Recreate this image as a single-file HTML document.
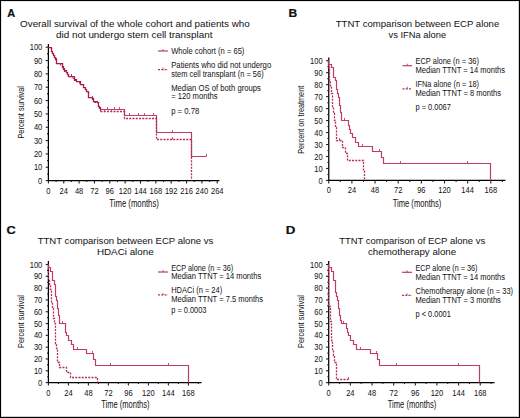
<!DOCTYPE html>
<html><head><meta charset="utf-8"><style>html,body{margin:0;padding:0;background:#fff;}svg{display:block;}text{font-family:"Liberation Sans",sans-serif;}</style></head><body>
<svg width="520" height="418" viewBox="0 0 520 418" font-family="Liberation Sans, sans-serif" fill="#111">
<rect x="0" y="0" width="520" height="418" fill="#fff"/>
<line x1="48.40" y1="44.00" x2="48.40" y2="181.10" stroke="#000" stroke-width="1.25"/>
<line x1="47.90" y1="180.60" x2="219.40" y2="180.60" stroke="#000" stroke-width="1.25"/>
<line x1="45.70" y1="180.60" x2="48.40" y2="180.60" stroke="#222" stroke-width="1.1"/>
<line x1="47.00" y1="173.93" x2="48.40" y2="173.93" stroke="#222" stroke-width="1.1"/>
<line x1="45.70" y1="167.26" x2="48.40" y2="167.26" stroke="#222" stroke-width="1.1"/>
<line x1="47.00" y1="160.59" x2="48.40" y2="160.59" stroke="#222" stroke-width="1.1"/>
<line x1="45.70" y1="153.92" x2="48.40" y2="153.92" stroke="#222" stroke-width="1.1"/>
<line x1="47.00" y1="147.25" x2="48.40" y2="147.25" stroke="#222" stroke-width="1.1"/>
<line x1="45.70" y1="140.58" x2="48.40" y2="140.58" stroke="#222" stroke-width="1.1"/>
<line x1="47.00" y1="133.91" x2="48.40" y2="133.91" stroke="#222" stroke-width="1.1"/>
<line x1="45.70" y1="127.24" x2="48.40" y2="127.24" stroke="#222" stroke-width="1.1"/>
<line x1="47.00" y1="120.57" x2="48.40" y2="120.57" stroke="#222" stroke-width="1.1"/>
<line x1="45.70" y1="113.90" x2="48.40" y2="113.90" stroke="#222" stroke-width="1.1"/>
<line x1="47.00" y1="107.23" x2="48.40" y2="107.23" stroke="#222" stroke-width="1.1"/>
<line x1="45.70" y1="100.56" x2="48.40" y2="100.56" stroke="#222" stroke-width="1.1"/>
<line x1="47.00" y1="93.89" x2="48.40" y2="93.89" stroke="#222" stroke-width="1.1"/>
<line x1="45.70" y1="87.22" x2="48.40" y2="87.22" stroke="#222" stroke-width="1.1"/>
<line x1="47.00" y1="80.55" x2="48.40" y2="80.55" stroke="#222" stroke-width="1.1"/>
<line x1="45.70" y1="73.88" x2="48.40" y2="73.88" stroke="#222" stroke-width="1.1"/>
<line x1="47.00" y1="67.21" x2="48.40" y2="67.21" stroke="#222" stroke-width="1.1"/>
<line x1="45.70" y1="60.54" x2="48.40" y2="60.54" stroke="#222" stroke-width="1.1"/>
<line x1="47.00" y1="53.87" x2="48.40" y2="53.87" stroke="#222" stroke-width="1.1"/>
<line x1="45.70" y1="47.20" x2="48.40" y2="47.20" stroke="#222" stroke-width="1.1"/>
<line x1="48.40" y1="180.60" x2="48.40" y2="183.60" stroke="#222" stroke-width="1.1"/>
<line x1="56.07" y1="180.60" x2="56.07" y2="182.10" stroke="#222" stroke-width="1.1"/>
<line x1="63.75" y1="180.60" x2="63.75" y2="183.60" stroke="#222" stroke-width="1.1"/>
<line x1="71.42" y1="180.60" x2="71.42" y2="182.10" stroke="#222" stroke-width="1.1"/>
<line x1="79.10" y1="180.60" x2="79.10" y2="183.60" stroke="#222" stroke-width="1.1"/>
<line x1="86.78" y1="180.60" x2="86.78" y2="182.10" stroke="#222" stroke-width="1.1"/>
<line x1="94.45" y1="180.60" x2="94.45" y2="183.60" stroke="#222" stroke-width="1.1"/>
<line x1="102.12" y1="180.60" x2="102.12" y2="182.10" stroke="#222" stroke-width="1.1"/>
<line x1="109.80" y1="180.60" x2="109.80" y2="183.60" stroke="#222" stroke-width="1.1"/>
<line x1="117.47" y1="180.60" x2="117.47" y2="182.10" stroke="#222" stroke-width="1.1"/>
<line x1="125.15" y1="180.60" x2="125.15" y2="183.60" stroke="#222" stroke-width="1.1"/>
<line x1="132.82" y1="180.60" x2="132.82" y2="182.10" stroke="#222" stroke-width="1.1"/>
<line x1="140.50" y1="180.60" x2="140.50" y2="183.60" stroke="#222" stroke-width="1.1"/>
<line x1="148.17" y1="180.60" x2="148.17" y2="182.10" stroke="#222" stroke-width="1.1"/>
<line x1="155.85" y1="180.60" x2="155.85" y2="183.60" stroke="#222" stroke-width="1.1"/>
<line x1="163.52" y1="180.60" x2="163.52" y2="182.10" stroke="#222" stroke-width="1.1"/>
<line x1="171.20" y1="180.60" x2="171.20" y2="183.60" stroke="#222" stroke-width="1.1"/>
<line x1="178.88" y1="180.60" x2="178.88" y2="182.10" stroke="#222" stroke-width="1.1"/>
<line x1="186.55" y1="180.60" x2="186.55" y2="183.60" stroke="#222" stroke-width="1.1"/>
<line x1="194.22" y1="180.60" x2="194.22" y2="182.10" stroke="#222" stroke-width="1.1"/>
<line x1="201.90" y1="180.60" x2="201.90" y2="183.60" stroke="#222" stroke-width="1.1"/>
<line x1="209.57" y1="180.60" x2="209.57" y2="182.10" stroke="#222" stroke-width="1.1"/>
<line x1="217.25" y1="180.60" x2="217.25" y2="183.60" stroke="#222" stroke-width="1.1"/>
<text x="42.30" y="183.65" font-size="9.0" text-anchor="end" textLength="4.20" lengthAdjust="spacingAndGlyphs">0</text>
<text x="42.30" y="170.31" font-size="9.0" text-anchor="end" textLength="8.40" lengthAdjust="spacingAndGlyphs">10</text>
<text x="42.30" y="156.97" font-size="9.0" text-anchor="end" textLength="8.40" lengthAdjust="spacingAndGlyphs">20</text>
<text x="42.30" y="143.63" font-size="9.0" text-anchor="end" textLength="8.40" lengthAdjust="spacingAndGlyphs">30</text>
<text x="42.30" y="130.29" font-size="9.0" text-anchor="end" textLength="8.40" lengthAdjust="spacingAndGlyphs">40</text>
<text x="42.30" y="116.95" font-size="9.0" text-anchor="end" textLength="8.40" lengthAdjust="spacingAndGlyphs">50</text>
<text x="42.30" y="103.61" font-size="9.0" text-anchor="end" textLength="8.40" lengthAdjust="spacingAndGlyphs">60</text>
<text x="42.30" y="90.27" font-size="9.0" text-anchor="end" textLength="8.40" lengthAdjust="spacingAndGlyphs">70</text>
<text x="42.30" y="76.93" font-size="9.0" text-anchor="end" textLength="8.40" lengthAdjust="spacingAndGlyphs">80</text>
<text x="42.30" y="63.59" font-size="9.0" text-anchor="end" textLength="8.40" lengthAdjust="spacingAndGlyphs">90</text>
<text x="42.30" y="50.25" font-size="9.0" text-anchor="end" textLength="12.60" lengthAdjust="spacingAndGlyphs">100</text>
<text x="48.40" y="193.60" font-size="9.0" text-anchor="middle" textLength="4.20" lengthAdjust="spacingAndGlyphs">0</text>
<text x="63.75" y="193.60" font-size="9.0" text-anchor="middle" textLength="8.40" lengthAdjust="spacingAndGlyphs">24</text>
<text x="79.10" y="193.60" font-size="9.0" text-anchor="middle" textLength="8.40" lengthAdjust="spacingAndGlyphs">48</text>
<text x="94.45" y="193.60" font-size="9.0" text-anchor="middle" textLength="8.40" lengthAdjust="spacingAndGlyphs">72</text>
<text x="109.80" y="193.60" font-size="9.0" text-anchor="middle" textLength="8.40" lengthAdjust="spacingAndGlyphs">96</text>
<text x="125.15" y="193.60" font-size="9.0" text-anchor="middle" textLength="12.60" lengthAdjust="spacingAndGlyphs">120</text>
<text x="140.50" y="193.60" font-size="9.0" text-anchor="middle" textLength="12.60" lengthAdjust="spacingAndGlyphs">144</text>
<text x="155.85" y="193.60" font-size="9.0" text-anchor="middle" textLength="12.60" lengthAdjust="spacingAndGlyphs">168</text>
<text x="171.20" y="193.60" font-size="9.0" text-anchor="middle" textLength="12.60" lengthAdjust="spacingAndGlyphs">192</text>
<text x="186.55" y="193.60" font-size="9.0" text-anchor="middle" textLength="12.60" lengthAdjust="spacingAndGlyphs">216</text>
<text x="201.90" y="193.60" font-size="9.0" text-anchor="middle" textLength="12.60" lengthAdjust="spacingAndGlyphs">240</text>
<text x="217.25" y="193.60" font-size="9.0" text-anchor="middle" textLength="12.60" lengthAdjust="spacingAndGlyphs">264</text>
<line x1="328.75" y1="57.60" x2="328.75" y2="180.95" stroke="#000" stroke-width="1.25"/>
<line x1="328.25" y1="180.45" x2="505.40" y2="180.45" stroke="#000" stroke-width="1.25"/>
<line x1="326.05" y1="180.45" x2="328.75" y2="180.45" stroke="#222" stroke-width="1.1"/>
<line x1="327.35" y1="174.46" x2="328.75" y2="174.46" stroke="#222" stroke-width="1.1"/>
<line x1="326.05" y1="168.47" x2="328.75" y2="168.47" stroke="#222" stroke-width="1.1"/>
<line x1="327.35" y1="162.49" x2="328.75" y2="162.49" stroke="#222" stroke-width="1.1"/>
<line x1="326.05" y1="156.50" x2="328.75" y2="156.50" stroke="#222" stroke-width="1.1"/>
<line x1="327.35" y1="150.51" x2="328.75" y2="150.51" stroke="#222" stroke-width="1.1"/>
<line x1="326.05" y1="144.52" x2="328.75" y2="144.52" stroke="#222" stroke-width="1.1"/>
<line x1="327.35" y1="138.54" x2="328.75" y2="138.54" stroke="#222" stroke-width="1.1"/>
<line x1="326.05" y1="132.55" x2="328.75" y2="132.55" stroke="#222" stroke-width="1.1"/>
<line x1="327.35" y1="126.56" x2="328.75" y2="126.56" stroke="#222" stroke-width="1.1"/>
<line x1="326.05" y1="120.57" x2="328.75" y2="120.57" stroke="#222" stroke-width="1.1"/>
<line x1="327.35" y1="114.59" x2="328.75" y2="114.59" stroke="#222" stroke-width="1.1"/>
<line x1="326.05" y1="108.60" x2="328.75" y2="108.60" stroke="#222" stroke-width="1.1"/>
<line x1="327.35" y1="102.61" x2="328.75" y2="102.61" stroke="#222" stroke-width="1.1"/>
<line x1="326.05" y1="96.62" x2="328.75" y2="96.62" stroke="#222" stroke-width="1.1"/>
<line x1="327.35" y1="90.64" x2="328.75" y2="90.64" stroke="#222" stroke-width="1.1"/>
<line x1="326.05" y1="84.65" x2="328.75" y2="84.65" stroke="#222" stroke-width="1.1"/>
<line x1="327.35" y1="78.66" x2="328.75" y2="78.66" stroke="#222" stroke-width="1.1"/>
<line x1="326.05" y1="72.68" x2="328.75" y2="72.68" stroke="#222" stroke-width="1.1"/>
<line x1="327.35" y1="66.69" x2="328.75" y2="66.69" stroke="#222" stroke-width="1.1"/>
<line x1="326.05" y1="60.70" x2="328.75" y2="60.70" stroke="#222" stroke-width="1.1"/>
<line x1="328.75" y1="180.45" x2="328.75" y2="183.45" stroke="#222" stroke-width="1.1"/>
<line x1="340.32" y1="180.45" x2="340.32" y2="181.95" stroke="#222" stroke-width="1.1"/>
<line x1="351.90" y1="180.45" x2="351.90" y2="183.45" stroke="#222" stroke-width="1.1"/>
<line x1="363.48" y1="180.45" x2="363.48" y2="181.95" stroke="#222" stroke-width="1.1"/>
<line x1="375.05" y1="180.45" x2="375.05" y2="183.45" stroke="#222" stroke-width="1.1"/>
<line x1="386.62" y1="180.45" x2="386.62" y2="181.95" stroke="#222" stroke-width="1.1"/>
<line x1="398.20" y1="180.45" x2="398.20" y2="183.45" stroke="#222" stroke-width="1.1"/>
<line x1="409.77" y1="180.45" x2="409.77" y2="181.95" stroke="#222" stroke-width="1.1"/>
<line x1="421.35" y1="180.45" x2="421.35" y2="183.45" stroke="#222" stroke-width="1.1"/>
<line x1="432.92" y1="180.45" x2="432.92" y2="181.95" stroke="#222" stroke-width="1.1"/>
<line x1="444.50" y1="180.45" x2="444.50" y2="183.45" stroke="#222" stroke-width="1.1"/>
<line x1="456.07" y1="180.45" x2="456.07" y2="181.95" stroke="#222" stroke-width="1.1"/>
<line x1="467.65" y1="180.45" x2="467.65" y2="183.45" stroke="#222" stroke-width="1.1"/>
<line x1="479.23" y1="180.45" x2="479.23" y2="181.95" stroke="#222" stroke-width="1.1"/>
<line x1="490.80" y1="180.45" x2="490.80" y2="183.45" stroke="#222" stroke-width="1.1"/>
<line x1="502.38" y1="180.45" x2="502.38" y2="181.95" stroke="#222" stroke-width="1.1"/>
<text x="322.65" y="183.50" font-size="9.0" text-anchor="end" textLength="4.20" lengthAdjust="spacingAndGlyphs">0</text>
<text x="322.65" y="171.53" font-size="9.0" text-anchor="end" textLength="8.40" lengthAdjust="spacingAndGlyphs">10</text>
<text x="322.65" y="159.55" font-size="9.0" text-anchor="end" textLength="8.40" lengthAdjust="spacingAndGlyphs">20</text>
<text x="322.65" y="147.57" font-size="9.0" text-anchor="end" textLength="8.40" lengthAdjust="spacingAndGlyphs">30</text>
<text x="322.65" y="135.60" font-size="9.0" text-anchor="end" textLength="8.40" lengthAdjust="spacingAndGlyphs">40</text>
<text x="322.65" y="123.62" font-size="9.0" text-anchor="end" textLength="8.40" lengthAdjust="spacingAndGlyphs">50</text>
<text x="322.65" y="111.65" font-size="9.0" text-anchor="end" textLength="8.40" lengthAdjust="spacingAndGlyphs">60</text>
<text x="322.65" y="99.67" font-size="9.0" text-anchor="end" textLength="8.40" lengthAdjust="spacingAndGlyphs">70</text>
<text x="322.65" y="87.70" font-size="9.0" text-anchor="end" textLength="8.40" lengthAdjust="spacingAndGlyphs">80</text>
<text x="322.65" y="75.73" font-size="9.0" text-anchor="end" textLength="8.40" lengthAdjust="spacingAndGlyphs">90</text>
<text x="322.65" y="63.75" font-size="9.0" text-anchor="end" textLength="12.60" lengthAdjust="spacingAndGlyphs">100</text>
<text x="328.75" y="193.45" font-size="9.0" text-anchor="middle" textLength="4.20" lengthAdjust="spacingAndGlyphs">0</text>
<text x="351.90" y="193.45" font-size="9.0" text-anchor="middle" textLength="8.40" lengthAdjust="spacingAndGlyphs">24</text>
<text x="375.05" y="193.45" font-size="9.0" text-anchor="middle" textLength="8.40" lengthAdjust="spacingAndGlyphs">48</text>
<text x="398.20" y="193.45" font-size="9.0" text-anchor="middle" textLength="8.40" lengthAdjust="spacingAndGlyphs">72</text>
<text x="421.35" y="193.45" font-size="9.0" text-anchor="middle" textLength="8.40" lengthAdjust="spacingAndGlyphs">96</text>
<text x="444.50" y="193.45" font-size="9.0" text-anchor="middle" textLength="12.60" lengthAdjust="spacingAndGlyphs">120</text>
<text x="467.65" y="193.45" font-size="9.0" text-anchor="middle" textLength="12.60" lengthAdjust="spacingAndGlyphs">144</text>
<text x="490.80" y="193.45" font-size="9.0" text-anchor="middle" textLength="12.60" lengthAdjust="spacingAndGlyphs">168</text>
<line x1="48.40" y1="261.00" x2="48.40" y2="383.10" stroke="#000" stroke-width="1.25"/>
<line x1="47.90" y1="382.60" x2="201.50" y2="382.60" stroke="#000" stroke-width="1.25"/>
<line x1="45.70" y1="382.60" x2="48.40" y2="382.60" stroke="#222" stroke-width="1.1"/>
<line x1="47.00" y1="376.70" x2="48.40" y2="376.70" stroke="#222" stroke-width="1.1"/>
<line x1="45.70" y1="370.79" x2="48.40" y2="370.79" stroke="#222" stroke-width="1.1"/>
<line x1="47.00" y1="364.88" x2="48.40" y2="364.88" stroke="#222" stroke-width="1.1"/>
<line x1="45.70" y1="358.98" x2="48.40" y2="358.98" stroke="#222" stroke-width="1.1"/>
<line x1="47.00" y1="353.08" x2="48.40" y2="353.08" stroke="#222" stroke-width="1.1"/>
<line x1="45.70" y1="347.17" x2="48.40" y2="347.17" stroke="#222" stroke-width="1.1"/>
<line x1="47.00" y1="341.26" x2="48.40" y2="341.26" stroke="#222" stroke-width="1.1"/>
<line x1="45.70" y1="335.36" x2="48.40" y2="335.36" stroke="#222" stroke-width="1.1"/>
<line x1="47.00" y1="329.46" x2="48.40" y2="329.46" stroke="#222" stroke-width="1.1"/>
<line x1="45.70" y1="323.55" x2="48.40" y2="323.55" stroke="#222" stroke-width="1.1"/>
<line x1="47.00" y1="317.64" x2="48.40" y2="317.64" stroke="#222" stroke-width="1.1"/>
<line x1="45.70" y1="311.74" x2="48.40" y2="311.74" stroke="#222" stroke-width="1.1"/>
<line x1="47.00" y1="305.84" x2="48.40" y2="305.84" stroke="#222" stroke-width="1.1"/>
<line x1="45.70" y1="299.93" x2="48.40" y2="299.93" stroke="#222" stroke-width="1.1"/>
<line x1="47.00" y1="294.02" x2="48.40" y2="294.02" stroke="#222" stroke-width="1.1"/>
<line x1="45.70" y1="288.12" x2="48.40" y2="288.12" stroke="#222" stroke-width="1.1"/>
<line x1="47.00" y1="282.22" x2="48.40" y2="282.22" stroke="#222" stroke-width="1.1"/>
<line x1="45.70" y1="276.31" x2="48.40" y2="276.31" stroke="#222" stroke-width="1.1"/>
<line x1="47.00" y1="270.40" x2="48.40" y2="270.40" stroke="#222" stroke-width="1.1"/>
<line x1="45.70" y1="264.50" x2="48.40" y2="264.50" stroke="#222" stroke-width="1.1"/>
<line x1="48.40" y1="382.60" x2="48.40" y2="385.60" stroke="#222" stroke-width="1.1"/>
<line x1="58.40" y1="382.60" x2="58.40" y2="384.10" stroke="#222" stroke-width="1.1"/>
<line x1="68.40" y1="382.60" x2="68.40" y2="385.60" stroke="#222" stroke-width="1.1"/>
<line x1="78.40" y1="382.60" x2="78.40" y2="384.10" stroke="#222" stroke-width="1.1"/>
<line x1="88.40" y1="382.60" x2="88.40" y2="385.60" stroke="#222" stroke-width="1.1"/>
<line x1="98.40" y1="382.60" x2="98.40" y2="384.10" stroke="#222" stroke-width="1.1"/>
<line x1="108.40" y1="382.60" x2="108.40" y2="385.60" stroke="#222" stroke-width="1.1"/>
<line x1="118.40" y1="382.60" x2="118.40" y2="384.10" stroke="#222" stroke-width="1.1"/>
<line x1="128.40" y1="382.60" x2="128.40" y2="385.60" stroke="#222" stroke-width="1.1"/>
<line x1="138.40" y1="382.60" x2="138.40" y2="384.10" stroke="#222" stroke-width="1.1"/>
<line x1="148.40" y1="382.60" x2="148.40" y2="385.60" stroke="#222" stroke-width="1.1"/>
<line x1="158.40" y1="382.60" x2="158.40" y2="384.10" stroke="#222" stroke-width="1.1"/>
<line x1="168.40" y1="382.60" x2="168.40" y2="385.60" stroke="#222" stroke-width="1.1"/>
<line x1="178.40" y1="382.60" x2="178.40" y2="384.10" stroke="#222" stroke-width="1.1"/>
<line x1="188.40" y1="382.60" x2="188.40" y2="385.60" stroke="#222" stroke-width="1.1"/>
<line x1="198.40" y1="382.60" x2="198.40" y2="384.10" stroke="#222" stroke-width="1.1"/>
<text x="42.30" y="385.65" font-size="9.0" text-anchor="end" textLength="4.20" lengthAdjust="spacingAndGlyphs">0</text>
<text x="42.30" y="373.84" font-size="9.0" text-anchor="end" textLength="8.40" lengthAdjust="spacingAndGlyphs">10</text>
<text x="42.30" y="362.03" font-size="9.0" text-anchor="end" textLength="8.40" lengthAdjust="spacingAndGlyphs">20</text>
<text x="42.30" y="350.22" font-size="9.0" text-anchor="end" textLength="8.40" lengthAdjust="spacingAndGlyphs">30</text>
<text x="42.30" y="338.41" font-size="9.0" text-anchor="end" textLength="8.40" lengthAdjust="spacingAndGlyphs">40</text>
<text x="42.30" y="326.60" font-size="9.0" text-anchor="end" textLength="8.40" lengthAdjust="spacingAndGlyphs">50</text>
<text x="42.30" y="314.79" font-size="9.0" text-anchor="end" textLength="8.40" lengthAdjust="spacingAndGlyphs">60</text>
<text x="42.30" y="302.98" font-size="9.0" text-anchor="end" textLength="8.40" lengthAdjust="spacingAndGlyphs">70</text>
<text x="42.30" y="291.17" font-size="9.0" text-anchor="end" textLength="8.40" lengthAdjust="spacingAndGlyphs">80</text>
<text x="42.30" y="279.36" font-size="9.0" text-anchor="end" textLength="8.40" lengthAdjust="spacingAndGlyphs">90</text>
<text x="42.30" y="267.55" font-size="9.0" text-anchor="end" textLength="12.60" lengthAdjust="spacingAndGlyphs">100</text>
<text x="48.40" y="395.60" font-size="9.0" text-anchor="middle" textLength="4.20" lengthAdjust="spacingAndGlyphs">0</text>
<text x="68.40" y="395.60" font-size="9.0" text-anchor="middle" textLength="8.40" lengthAdjust="spacingAndGlyphs">24</text>
<text x="88.40" y="395.60" font-size="9.0" text-anchor="middle" textLength="8.40" lengthAdjust="spacingAndGlyphs">48</text>
<text x="108.40" y="395.60" font-size="9.0" text-anchor="middle" textLength="8.40" lengthAdjust="spacingAndGlyphs">72</text>
<text x="128.40" y="395.60" font-size="9.0" text-anchor="middle" textLength="8.40" lengthAdjust="spacingAndGlyphs">96</text>
<text x="148.40" y="395.60" font-size="9.0" text-anchor="middle" textLength="12.60" lengthAdjust="spacingAndGlyphs">120</text>
<text x="168.40" y="395.60" font-size="9.0" text-anchor="middle" textLength="12.60" lengthAdjust="spacingAndGlyphs">144</text>
<text x="188.40" y="395.60" font-size="9.0" text-anchor="middle" textLength="12.60" lengthAdjust="spacingAndGlyphs">168</text>
<line x1="328.70" y1="261.00" x2="328.70" y2="383.10" stroke="#000" stroke-width="1.25"/>
<line x1="328.20" y1="382.60" x2="494.50" y2="382.60" stroke="#000" stroke-width="1.25"/>
<line x1="326.00" y1="382.60" x2="328.70" y2="382.60" stroke="#222" stroke-width="1.1"/>
<line x1="327.30" y1="376.70" x2="328.70" y2="376.70" stroke="#222" stroke-width="1.1"/>
<line x1="326.00" y1="370.79" x2="328.70" y2="370.79" stroke="#222" stroke-width="1.1"/>
<line x1="327.30" y1="364.88" x2="328.70" y2="364.88" stroke="#222" stroke-width="1.1"/>
<line x1="326.00" y1="358.98" x2="328.70" y2="358.98" stroke="#222" stroke-width="1.1"/>
<line x1="327.30" y1="353.08" x2="328.70" y2="353.08" stroke="#222" stroke-width="1.1"/>
<line x1="326.00" y1="347.17" x2="328.70" y2="347.17" stroke="#222" stroke-width="1.1"/>
<line x1="327.30" y1="341.26" x2="328.70" y2="341.26" stroke="#222" stroke-width="1.1"/>
<line x1="326.00" y1="335.36" x2="328.70" y2="335.36" stroke="#222" stroke-width="1.1"/>
<line x1="327.30" y1="329.46" x2="328.70" y2="329.46" stroke="#222" stroke-width="1.1"/>
<line x1="326.00" y1="323.55" x2="328.70" y2="323.55" stroke="#222" stroke-width="1.1"/>
<line x1="327.30" y1="317.64" x2="328.70" y2="317.64" stroke="#222" stroke-width="1.1"/>
<line x1="326.00" y1="311.74" x2="328.70" y2="311.74" stroke="#222" stroke-width="1.1"/>
<line x1="327.30" y1="305.84" x2="328.70" y2="305.84" stroke="#222" stroke-width="1.1"/>
<line x1="326.00" y1="299.93" x2="328.70" y2="299.93" stroke="#222" stroke-width="1.1"/>
<line x1="327.30" y1="294.02" x2="328.70" y2="294.02" stroke="#222" stroke-width="1.1"/>
<line x1="326.00" y1="288.12" x2="328.70" y2="288.12" stroke="#222" stroke-width="1.1"/>
<line x1="327.30" y1="282.22" x2="328.70" y2="282.22" stroke="#222" stroke-width="1.1"/>
<line x1="326.00" y1="276.31" x2="328.70" y2="276.31" stroke="#222" stroke-width="1.1"/>
<line x1="327.30" y1="270.40" x2="328.70" y2="270.40" stroke="#222" stroke-width="1.1"/>
<line x1="326.00" y1="264.50" x2="328.70" y2="264.50" stroke="#222" stroke-width="1.1"/>
<line x1="328.70" y1="382.60" x2="328.70" y2="385.60" stroke="#222" stroke-width="1.1"/>
<line x1="339.52" y1="382.60" x2="339.52" y2="384.10" stroke="#222" stroke-width="1.1"/>
<line x1="350.35" y1="382.60" x2="350.35" y2="385.60" stroke="#222" stroke-width="1.1"/>
<line x1="361.17" y1="382.60" x2="361.17" y2="384.10" stroke="#222" stroke-width="1.1"/>
<line x1="372.00" y1="382.60" x2="372.00" y2="385.60" stroke="#222" stroke-width="1.1"/>
<line x1="382.82" y1="382.60" x2="382.82" y2="384.10" stroke="#222" stroke-width="1.1"/>
<line x1="393.65" y1="382.60" x2="393.65" y2="385.60" stroke="#222" stroke-width="1.1"/>
<line x1="404.47" y1="382.60" x2="404.47" y2="384.10" stroke="#222" stroke-width="1.1"/>
<line x1="415.30" y1="382.60" x2="415.30" y2="385.60" stroke="#222" stroke-width="1.1"/>
<line x1="426.12" y1="382.60" x2="426.12" y2="384.10" stroke="#222" stroke-width="1.1"/>
<line x1="436.95" y1="382.60" x2="436.95" y2="385.60" stroke="#222" stroke-width="1.1"/>
<line x1="447.77" y1="382.60" x2="447.77" y2="384.10" stroke="#222" stroke-width="1.1"/>
<line x1="458.60" y1="382.60" x2="458.60" y2="385.60" stroke="#222" stroke-width="1.1"/>
<line x1="469.42" y1="382.60" x2="469.42" y2="384.10" stroke="#222" stroke-width="1.1"/>
<line x1="480.25" y1="382.60" x2="480.25" y2="385.60" stroke="#222" stroke-width="1.1"/>
<line x1="491.07" y1="382.60" x2="491.07" y2="384.10" stroke="#222" stroke-width="1.1"/>
<text x="322.60" y="385.65" font-size="9.0" text-anchor="end" textLength="4.20" lengthAdjust="spacingAndGlyphs">0</text>
<text x="322.60" y="373.84" font-size="9.0" text-anchor="end" textLength="8.40" lengthAdjust="spacingAndGlyphs">10</text>
<text x="322.60" y="362.03" font-size="9.0" text-anchor="end" textLength="8.40" lengthAdjust="spacingAndGlyphs">20</text>
<text x="322.60" y="350.22" font-size="9.0" text-anchor="end" textLength="8.40" lengthAdjust="spacingAndGlyphs">30</text>
<text x="322.60" y="338.41" font-size="9.0" text-anchor="end" textLength="8.40" lengthAdjust="spacingAndGlyphs">40</text>
<text x="322.60" y="326.60" font-size="9.0" text-anchor="end" textLength="8.40" lengthAdjust="spacingAndGlyphs">50</text>
<text x="322.60" y="314.79" font-size="9.0" text-anchor="end" textLength="8.40" lengthAdjust="spacingAndGlyphs">60</text>
<text x="322.60" y="302.98" font-size="9.0" text-anchor="end" textLength="8.40" lengthAdjust="spacingAndGlyphs">70</text>
<text x="322.60" y="291.17" font-size="9.0" text-anchor="end" textLength="8.40" lengthAdjust="spacingAndGlyphs">80</text>
<text x="322.60" y="279.36" font-size="9.0" text-anchor="end" textLength="8.40" lengthAdjust="spacingAndGlyphs">90</text>
<text x="322.60" y="267.55" font-size="9.0" text-anchor="end" textLength="12.60" lengthAdjust="spacingAndGlyphs">100</text>
<text x="328.70" y="395.60" font-size="9.0" text-anchor="middle" textLength="4.20" lengthAdjust="spacingAndGlyphs">0</text>
<text x="350.35" y="395.60" font-size="9.0" text-anchor="middle" textLength="8.40" lengthAdjust="spacingAndGlyphs">24</text>
<text x="372.00" y="395.60" font-size="9.0" text-anchor="middle" textLength="8.40" lengthAdjust="spacingAndGlyphs">48</text>
<text x="393.65" y="395.60" font-size="9.0" text-anchor="middle" textLength="8.40" lengthAdjust="spacingAndGlyphs">72</text>
<text x="415.30" y="395.60" font-size="9.0" text-anchor="middle" textLength="8.40" lengthAdjust="spacingAndGlyphs">96</text>
<text x="436.95" y="395.60" font-size="9.0" text-anchor="middle" textLength="12.60" lengthAdjust="spacingAndGlyphs">120</text>
<text x="458.60" y="395.60" font-size="9.0" text-anchor="middle" textLength="12.60" lengthAdjust="spacingAndGlyphs">144</text>
<text x="480.25" y="395.60" font-size="9.0" text-anchor="middle" textLength="12.60" lengthAdjust="spacingAndGlyphs">168</text>
<text x="7.30" y="16.60" font-size="11.4" text-anchor="start" font-weight="bold" textLength="7.90" lengthAdjust="spacingAndGlyphs" stroke="#000" stroke-width="0.2">A</text>
<text x="288.60" y="16.60" font-size="11.4" text-anchor="start" font-weight="bold" textLength="8.70" lengthAdjust="spacingAndGlyphs" stroke="#000" stroke-width="0.2">B</text>
<text x="6.40" y="233.70" font-size="11.4" text-anchor="start" font-weight="bold" textLength="9.20" lengthAdjust="spacingAndGlyphs" stroke="#000" stroke-width="0.2">C</text>
<text x="285.80" y="233.70" font-size="11.4" text-anchor="start" font-weight="bold" textLength="9.60" lengthAdjust="spacingAndGlyphs" stroke="#000" stroke-width="0.2">D</text>
<text x="20.10" y="26.80" font-size="9.3" text-anchor="start" textLength="229.60" lengthAdjust="spacingAndGlyphs">Overall survival of the whole cohort and patients who</text>
<text x="56.00" y="38.40" font-size="9.3" text-anchor="start" textLength="156.40" lengthAdjust="spacingAndGlyphs">did not undergo stem cell transplant</text>
<text x="335.70" y="26.80" font-size="9.3" text-anchor="start" textLength="163.60" lengthAdjust="spacingAndGlyphs">TTNT comparison between ECP alone</text>
<text x="388.50" y="38.40" font-size="9.3" text-anchor="start" textLength="57.60" lengthAdjust="spacingAndGlyphs">vs IFNa alone</text>
<text x="37.70" y="244.40" font-size="9.3" text-anchor="start" textLength="175.60" lengthAdjust="spacingAndGlyphs">TTNT comparison between ECP alone vs</text>
<text x="96.90" y="255.00" font-size="9.3" text-anchor="start" textLength="56.80" lengthAdjust="spacingAndGlyphs">HDACi alone</text>
<text x="339.20" y="244.40" font-size="9.3" text-anchor="start" textLength="146.00" lengthAdjust="spacingAndGlyphs">TTNT comparison of ECP alone vs</text>
<text x="368.00" y="255.00" font-size="9.3" text-anchor="start" textLength="88.20" lengthAdjust="spacingAndGlyphs">chemotherapy alone</text>
<text x="134.10" y="206.60" font-size="10.2" text-anchor="middle" textLength="49.50" lengthAdjust="spacingAndGlyphs">Time (months)</text>
<text x="417.00" y="206.60" font-size="10.2" text-anchor="middle" textLength="48.70" lengthAdjust="spacingAndGlyphs">Time (months)</text>
<text x="125.40" y="408.40" font-size="10.2" text-anchor="middle" textLength="48.40" lengthAdjust="spacingAndGlyphs">Time (months)</text>
<text x="412.00" y="408.40" font-size="10.2" text-anchor="middle" textLength="48.50" lengthAdjust="spacingAndGlyphs">Time (months)</text>
<text transform="translate(24.00,112.30) rotate(-90)" x="0" y="0" font-size="9.9" text-anchor="middle" textLength="52.60" lengthAdjust="spacingAndGlyphs">Percent survival</text>
<text transform="translate(304.30,119.80) rotate(-90)" x="0" y="0" font-size="9.9" text-anchor="middle" textLength="68.00" lengthAdjust="spacingAndGlyphs">Percent on treatment</text>
<text transform="translate(24.10,321.50) rotate(-90)" x="0" y="0" font-size="9.9" text-anchor="middle" textLength="53.00" lengthAdjust="spacingAndGlyphs">Percent survival</text>
<text transform="translate(304.20,321.50) rotate(-90)" x="0" y="0" font-size="9.9" text-anchor="middle" textLength="53.00" lengthAdjust="spacingAndGlyphs">Percent survival</text>
<line x1="158" y1="51" x2="168" y2="51" stroke="#bd3d66" stroke-width="1.2"/>
<line x1="163.0" y1="49" x2="163.0" y2="51" stroke="#bd3d66" stroke-width="0.9"/>
<text x="171.20" y="53.90" font-size="8.4" text-anchor="start" textLength="73.20" lengthAdjust="spacingAndGlyphs">Whole cohort (n = 65)</text>
<line x1="158" y1="69.6" x2="168" y2="69.6" stroke="#b32e5a" stroke-width="1.3" stroke-dasharray="2,1.25"/>
<line x1="163.0" y1="67.6" x2="163.0" y2="69.6" stroke="#bd3d66" stroke-width="0.9"/>
<text x="171.20" y="67.80" font-size="8.4" text-anchor="start" textLength="100.00" lengthAdjust="spacingAndGlyphs">Patients who did not undergo</text>
<text x="171.20" y="77.40" font-size="8.4" text-anchor="start" textLength="92.50" lengthAdjust="spacingAndGlyphs">stem cell transplant (n = 56)</text>
<text x="171.20" y="90.80" font-size="8.4" text-anchor="start" textLength="89.70" lengthAdjust="spacingAndGlyphs">Median OS of both groups</text>
<text x="171.20" y="99.30" font-size="8.4" text-anchor="start" textLength="46.40" lengthAdjust="spacingAndGlyphs">= 120 months</text>
<text x="171.20" y="113.60" font-size="8.4" text-anchor="start" textLength="28.00" lengthAdjust="spacingAndGlyphs">p = 0.78</text>
<line x1="402.5" y1="65.7" x2="412" y2="65.7" stroke="#bd3d66" stroke-width="1.2"/>
<line x1="407.25" y1="63.7" x2="407.25" y2="65.7" stroke="#bd3d66" stroke-width="0.9"/>
<text x="415.50" y="63.90" font-size="8.4" text-anchor="start" textLength="63.50" lengthAdjust="spacingAndGlyphs">ECP alone (n = 36)</text>
<text x="415.50" y="73.00" font-size="8.4" text-anchor="start" textLength="89.50" lengthAdjust="spacingAndGlyphs">Median TTNT = 14 months</text>
<line x1="402.5" y1="88.8" x2="412" y2="88.8" stroke="#b32e5a" stroke-width="1.3" stroke-dasharray="2,1.25"/>
<line x1="407.25" y1="86.8" x2="407.25" y2="88.8" stroke="#bd3d66" stroke-width="0.9"/>
<text x="415.50" y="87.00" font-size="8.4" text-anchor="start" textLength="63.50" lengthAdjust="spacingAndGlyphs">IFNa alone (n = 18)</text>
<text x="415.50" y="95.80" font-size="8.4" text-anchor="start" textLength="85.50" lengthAdjust="spacingAndGlyphs">Median TTNT = 8 months</text>
<text x="415.50" y="109.60" font-size="8.4" text-anchor="start" textLength="35.30" lengthAdjust="spacingAndGlyphs">p = 0.0067</text>
<line x1="158" y1="272" x2="168" y2="272" stroke="#bd3d66" stroke-width="1.2"/>
<line x1="163.0" y1="270" x2="163.0" y2="272" stroke="#bd3d66" stroke-width="0.9"/>
<text x="171.20" y="270.70" font-size="8.4" text-anchor="start" textLength="62.00" lengthAdjust="spacingAndGlyphs">ECP alone (n = 36)</text>
<text x="171.20" y="279.20" font-size="8.4" text-anchor="start" textLength="90.00" lengthAdjust="spacingAndGlyphs">Median TTNT = 14 months</text>
<line x1="158" y1="294.9" x2="168" y2="294.9" stroke="#b32e5a" stroke-width="1.3" stroke-dasharray="2,1.25"/>
<line x1="163.0" y1="292.9" x2="163.0" y2="294.9" stroke="#bd3d66" stroke-width="0.9"/>
<text x="171.20" y="293.20" font-size="8.4" text-anchor="start" textLength="51.00" lengthAdjust="spacingAndGlyphs">HDACi (n = 24)</text>
<text x="171.20" y="302.00" font-size="8.4" text-anchor="start" textLength="91.90" lengthAdjust="spacingAndGlyphs">Median TTNT = 7.5 months</text>
<text x="171.20" y="313.00" font-size="8.4" text-anchor="start" textLength="35.30" lengthAdjust="spacingAndGlyphs">p = 0.0003</text>
<line x1="402.0" y1="272.3" x2="412" y2="272.3" stroke="#bd3d66" stroke-width="1.2"/>
<line x1="407.0" y1="270.3" x2="407.0" y2="272.3" stroke="#bd3d66" stroke-width="0.9"/>
<text x="415.50" y="270.80" font-size="8.4" text-anchor="start" textLength="62.00" lengthAdjust="spacingAndGlyphs">ECP alone (n = 36)</text>
<text x="415.50" y="279.60" font-size="8.4" text-anchor="start" textLength="89.50" lengthAdjust="spacingAndGlyphs">Median TTNT = 14 months</text>
<line x1="402.0" y1="295.4" x2="412" y2="295.4" stroke="#b32e5a" stroke-width="1.3" stroke-dasharray="2,1.25"/>
<line x1="407.0" y1="293.4" x2="407.0" y2="295.4" stroke="#bd3d66" stroke-width="0.9"/>
<text x="415.50" y="293.90" font-size="8.4" text-anchor="start" textLength="97.60" lengthAdjust="spacingAndGlyphs">Chemotherapy alone (n = 33)</text>
<text x="415.50" y="302.60" font-size="8.4" text-anchor="start" textLength="85.40" lengthAdjust="spacingAndGlyphs">Median TTNT = 3 months</text>
<text x="415.50" y="317.20" font-size="8.4" text-anchor="start" textLength="35.30" lengthAdjust="spacingAndGlyphs">p &lt; 0.0001</text>
<path d="M328.5,60.5H328.5V64.5H331.5V67.5H333.5V77.5H335.5V80.5H336.5V89.5H337.5V93.5H338.5V97.5H339.5V105.5H340.5V112.5H341.5V117.5H341.5V120.5H348.5V125.5H349.5V129.5H350.5V133.5H352.5V137.5H355.5V142.5H358.5V146.5H372.5V151.5H381.5V157.5H383.5V163.5H490.5V180.5" fill="none" stroke="#bd3d66" stroke-width="1.2"/>
<line x1="344.50" y1="118.00" x2="344.50" y2="120.50" stroke="#bd3d66" stroke-width="0.9"/>
<line x1="362.50" y1="144.00" x2="362.50" y2="146.50" stroke="#bd3d66" stroke-width="0.9"/>
<line x1="379.50" y1="149.00" x2="379.50" y2="151.50" stroke="#bd3d66" stroke-width="0.9"/>
<line x1="400.50" y1="161.00" x2="400.50" y2="163.50" stroke="#bd3d66" stroke-width="0.9"/>
<line x1="467.50" y1="161.00" x2="467.50" y2="163.50" stroke="#bd3d66" stroke-width="0.9"/>
<path d="M328.5,60.5H328.5V67.5H329.5V73.5H329.5V80.5H330.5V87.5H331.5V93.5H332.5V100.5H332.5V107.5H333.5V113.5H334.5V120.5H335.5V127.5H336.5V133.5H336.5V140.5H342.5V147.5H345.5V153.5H347.5V160.5H363.5V170.5H364.5V180.5" fill="none" stroke="#b32e5a" stroke-width="1.3" stroke-dasharray="2,1.25"/>
<line x1="339.50" y1="138.00" x2="339.50" y2="140.50" stroke="#bd3d66" stroke-width="0.9"/>
<path d="M48.5,264.5H48.5V267.5H50.5V271.5H52.5V280.5H54.5V284.5H55.5V292.5H55.5V296.5H56.5V300.5H57.5V308.5H58.5V315.5H59.5V320.5H59.5V323.5H65.5V328.5H65.5V332.5H66.5V335.5H68.5V340.5H71.5V344.5H73.5V349.5H86.5V353.5H93.5V359.5H95.5V365.5H188.5V382.5" fill="none" stroke="#bd3d66" stroke-width="1.2"/>
<line x1="62.50" y1="321.00" x2="62.50" y2="323.50" stroke="#bd3d66" stroke-width="0.9"/>
<line x1="77.50" y1="347.00" x2="77.50" y2="349.50" stroke="#bd3d66" stroke-width="0.9"/>
<line x1="92.50" y1="351.00" x2="92.50" y2="353.50" stroke="#bd3d66" stroke-width="0.9"/>
<line x1="110.50" y1="363.00" x2="110.50" y2="365.50" stroke="#bd3d66" stroke-width="0.9"/>
<line x1="168.50" y1="363.00" x2="168.50" y2="365.50" stroke="#bd3d66" stroke-width="0.9"/>
<path d="M48.5,264.5H48.5V279.5H49.5V284.5H50.5V289.5H51.5V294.5H51.5V303.5H52.5V308.5H53.5V313.5H53.5V318.5H54.5V323.5H55.5V328.5H55.5V333.5H55.5V343.5H56.5V348.5H57.5V362.5H59.5V367.5H66.5V372.5H70.5V377.5H97.5V382.5" fill="none" stroke="#b32e5a" stroke-width="1.3" stroke-dasharray="2,1.25"/>
<path d="M328.5,264.5H328.5V267.5H331.5V271.5H333.5V280.5H335.5V284.5H335.5V292.5H336.5V296.5H337.5V300.5H338.5V308.5H339.5V315.5H340.5V320.5H341.5V323.5H346.5V328.5H347.5V332.5H348.5V335.5H350.5V340.5H353.5V344.5H356.5V349.5H370.5V353.5H377.5V359.5H379.5V365.5H479.5V382.5" fill="none" stroke="#bd3d66" stroke-width="1.2"/>
<line x1="343.50" y1="321.00" x2="343.50" y2="323.50" stroke="#bd3d66" stroke-width="0.9"/>
<line x1="360.50" y1="347.00" x2="360.50" y2="349.50" stroke="#bd3d66" stroke-width="0.9"/>
<line x1="376.50" y1="351.00" x2="376.50" y2="353.50" stroke="#bd3d66" stroke-width="0.9"/>
<line x1="396.50" y1="363.00" x2="396.50" y2="365.50" stroke="#bd3d66" stroke-width="0.9"/>
<line x1="458.50" y1="363.00" x2="458.50" y2="365.50" stroke="#bd3d66" stroke-width="0.9"/>
<path d="M328.5,264.5H328.5V306.5H330.5V321.5H331.5V340.5H332.5V350.5H333.5V355.5H334.5V362.5H336.5V379.5H348.5" fill="none" stroke="#b32e5a" stroke-width="1.3" stroke-dasharray="2,1.25"/>
<line x1="348.50" y1="377.00" x2="348.50" y2="379.50" stroke="#bd3d66" stroke-width="0.9"/>
<path d="M48.5,47.5H51.5H51.5V49.5H51.5V51.5H52.5V53.5H53.5V55.5H54.5V57.5H55.5V59.5H56.5V61.5H56.5V63.5H62.5V65.5H62.5V67.5H63.5V69.5H64.5V71.5H66.5V72.5H67.5V74.5H68.5V76.5H72.5V78.5H74.5V80.5H76.5V81.5H80.5V84.5H83.5V87.5H85.5V89.5H86.5V91.5H88.5V92.5H88.5V95.5H88.5V97.5H92.5V99.5H93.5V101.5H93.5V102.5H97.5V102.5H98.5V104.5H98.5V106.5H99.5H99.5V107.5H99.5V109.5H100.5V111.5" fill="none" stroke="#a91d47" stroke-width="1.2" stroke-dasharray="2,1.25"/>
<path d="M48.5,47.5H51.5H51.5V49.5H51.5V51.5H52.5V53.5H53.5V55.5H54.5V57.5H55.5V59.5H56.5V61.5H56.5V63.5H62.5V64.5H62.5V66.5H63.5V68.5H64.5V70.5H66.5V72.5H67.5V74.5H68.5V76.5H72.5V76.5H74.5V79.5H76.5V81.5H80.5V84.5H83.5V87.5H85.5V89.5H86.5V91.5H88.5V92.5H88.5V95.5H88.5V97.5H92.5V98.5H93.5V99.5H93.5V101.5H97.5V102.5H98.5V104.5H98.5V106.5H99.5V107.5H100.5V109.5" fill="none" stroke="#a91d47" stroke-width="1.25"/>
<path d="M100.5,109.5H124.5V115.5H156.5V132.5H191.5V156.5H206.5" fill="none" stroke="#bd3d66" stroke-width="1.2"/>
<path d="M100.5,111.5H124.5V118.5H156.5V139.5H191.5V180.5" fill="none" stroke="#b32e5a" stroke-width="1.3" stroke-dasharray="2,1.25"/>
<line x1="107.50" y1="107.00" x2="107.50" y2="109.50" stroke="#bd3d66" stroke-width="0.9"/>
<line x1="114.50" y1="107.00" x2="114.50" y2="109.50" stroke="#bd3d66" stroke-width="0.9"/>
<line x1="119.50" y1="107.00" x2="119.50" y2="109.50" stroke="#bd3d66" stroke-width="0.9"/>
<line x1="129.50" y1="113.00" x2="129.50" y2="115.50" stroke="#bd3d66" stroke-width="0.9"/>
<line x1="138.50" y1="113.00" x2="138.50" y2="115.50" stroke="#bd3d66" stroke-width="0.9"/>
<line x1="144.50" y1="113.00" x2="144.50" y2="115.50" stroke="#bd3d66" stroke-width="0.9"/>
<line x1="153.50" y1="113.00" x2="153.50" y2="115.50" stroke="#bd3d66" stroke-width="0.9"/>
<line x1="172.50" y1="130.00" x2="172.50" y2="132.50" stroke="#bd3d66" stroke-width="0.9"/>
<line x1="206.50" y1="154.00" x2="206.50" y2="156.50" stroke="#bd3d66" stroke-width="0.9"/>
<line x1="172.50" y1="137.00" x2="172.50" y2="139.50" stroke="#bd3d66" stroke-width="0.9"/>
<line x1="74.50" y1="77.00" x2="74.50" y2="79.50" stroke="#a91d47" stroke-width="0.9"/>
<line x1="62.50" y1="64.00" x2="62.50" y2="66.50" stroke="#a91d47" stroke-width="0.9"/>
<line x1="60.50" y1="63.00" x2="60.50" y2="65.50" stroke="#a91d47" stroke-width="0.9"/>
<line x1="71.50" y1="74.00" x2="71.50" y2="76.50" stroke="#a91d47" stroke-width="0.9"/>
<line x1="104.50" y1="109.00" x2="104.50" y2="111.50" stroke="#bd3d66" stroke-width="0.9"/>
<line x1="111.50" y1="109.00" x2="111.50" y2="111.50" stroke="#bd3d66" stroke-width="0.9"/>
<line x1="56.50" y1="58.00" x2="56.50" y2="60.50" stroke="#a91d47" stroke-width="0.9"/>
<line x1="79.50" y1="81.00" x2="79.50" y2="83.50" stroke="#a91d47" stroke-width="0.9"/>
<line x1="92.50" y1="96.00" x2="92.50" y2="98.50" stroke="#a91d47" stroke-width="0.9"/>
<g shape-rendering="crispEdges"><rect x="1" y="1" width="518" height="1" fill="#e6e6e6"/><rect x="1" y="1" width="1" height="416" fill="#e6e6e6"/><rect x="518" y="0" width="1" height="418" fill="#cfcfcf"/><rect x="0" y="416" width="519" height="1" fill="#cfcfcf"/><rect x="0" y="0" width="520" height="1" fill="#000"/><rect x="0" y="0" width="1" height="418" fill="#000"/><rect x="519" y="0" width="1" height="418" fill="#000"/><rect x="0" y="417" width="520" height="1" fill="#000"/></g>
</svg>
</body></html>
